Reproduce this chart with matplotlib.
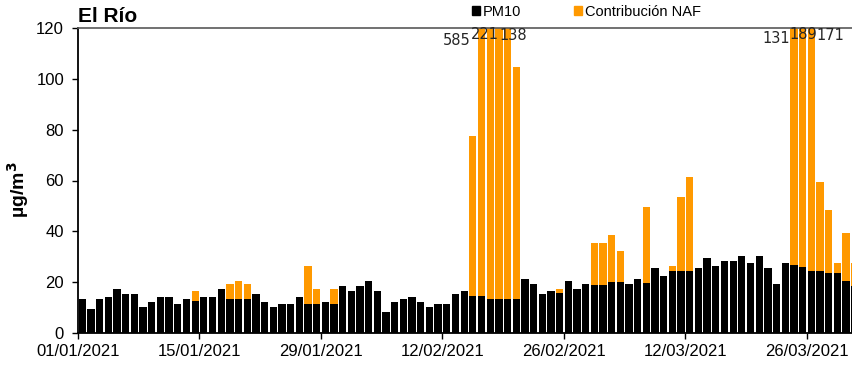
import matplotlib
matplotlib.use("Agg")
import matplotlib.pyplot as plt
import matplotlib.dates as mdates
from matplotlib.patches import Patch
import numpy as np
import pandas as pd

plt.rcParams['font.family'] = ['Liberation Sans', 'DejaVu Sans']

# ── Daily PM10 at El Río, Q1 2021 (µg/m³) ──
days = pd.date_range('2021-01-01', '2021-03-31', freq='D')

pm10 = [
    # January
    13.4, 9.4, 13.4, 14.3, 17.3, 15.5, 15.5, 10.2, 12.3, 14.3,
    14.3, 11.5, 13.4, 12.6, 14.3, 14.3, 17.3, 13.5, 13.5, 13.5,
    15.3, 12.3, 10.3, 11.5, 11.5, 14.3, 11.5, 11.5, 12.3, 11.5,
    18.5,
    # February
    16.5, 18.5, 20.5, 16.5, 8.3, 12.3, 13.4, 14.3, 12.3, 10.3,
    11.5, 11.5, 15.5, 16.5, 14.5, 14.5, 13.4, 13.4, 13.4, 13.4,
    21.3, 19.3, 15.3, 16.5, 15.7, 20.5, 17.4, 19.3,
    # March
    18.7, 18.7, 19.9, 19.9, 19.3, 21.3, 19.7, 25.4, 22.5, 24.5,
    24.5, 24.5, 25.4, 29.6, 26.4, 28.4, 28.4, 30.4, 27.6, 30.4,
    25.4, 19.3, 27.6, 26.8, 25.8, 24.5, 24.5, 23.7, 23.7, 20.5,
    18.6,
]

# natural (African dust) contribution stacked on top
naf = [
    # January
    0, 0, 0, 0, 0, 0, 0, 0, 0, 0,
    0, 0, 0, 3.9, 0, 0, 0, 5.8, 7.0, 5.8,
    0, 0, 0, 0, 0, 0, 14.9, 5.8, 0, 5.8,
    0,
    # February
    0, 0, 0, 0, 0, 0, 0, 0, 0, 0,
    0, 0, 0, 0, 63.1, 570.5, 207.6, 124.6, 106.6, 91.1,
    0, 0, 0, 0, 1.6, 0, 0, 0,
    # March
    16.7, 16.7, 18.7, 12.3, 0, 0, 29.9, 0, 0, 1.9,
    29.1, 36.8, 0, 0, 0, 0, 0, 0, 0, 0,
    0, 0, 0, 104.2, 163.2, 146.5, 34.8, 24.7, 3.9, 18.8,
    9.0,
]

YMAX = 120
# label placement around the clipped bars: (day offset, y)
label_pos = [(-2.85, 115.0), (-0.6, 117.5), (1.65, 117.0),
             (-2.0, 116.0), (0.05, 117.5), (2.15, 117.0)]

pm10 = np.array(pm10)
naf = np.array(naf)
total = pm10 + naf
x = mdates.date2num(days.to_pydatetime()) + 0.5

fig = plt.figure(figsize=(8.53, 3.66), dpi=100)
ax = fig.add_axes([78 / 853, 33 / 366, 781 / 853, 305 / 366])

ax.bar(x, pm10, width=0.84, color='black', zorder=2)
ax.bar(x, naf, width=0.84, bottom=pm10, color='#FF9900', zorder=2)

# values above the axis limit are written on top
over = np.where(total > YMAX + 0.5)[0]
for (dx, yy), i in zip(label_pos, over):
    ax.text(x[i] + dx, yy, f"{round(total[i]):d}", ha='center', va='center',
            fontsize=10.5, color='#262626', family='DejaVu Sans', zorder=5)

ax.set_ylim(0, YMAX)
ax.set_yticks(range(0, YMAX + 1, 20))
start = mdates.date2num(pd.Timestamp('2021-01-01').to_pydatetime())
ax.set_xlim(start, start + 90)
ax.set_xticks([start + 14 * k for k in range(7)])
ax.xaxis.set_major_formatter(mdates.DateFormatter('%d/%m/%Y'))

ax.tick_params(axis='both', labelsize=12, direction='out', length=4,
               width=1, colors='black')
ax.tick_params(axis='y', pad=6)
ax.tick_params(axis='x', pad=4)

for s in ['left', 'bottom']:
    ax.spines[s].set_linewidth(1.3)
    ax.spines[s].set_color('black')
ax.spines['top'].set_color('#595959')
ax.spines['top'].set_linewidth(1.2)
ax.spines['right'].set_visible(False)

ax.set_ylabel('µg/m$^{\\mathbf{3}}$', fontsize=14, fontweight='bold')
ax.yaxis.set_label_coords(-47 / 781, 0.47)

fig.text(78 / 853, 1 - 17 / 366, 'El Río', fontsize=15, fontweight='bold',
         ha='left', va='center')

handles = [Patch(color='black', label='PM10'),
           Patch(color='#FF9900', label='Contribución NAF')]
fig.legend(handles=handles, loc='center left', bbox_to_anchor=(472 / 853, 1 - 12 / 366),
           ncol=2, frameon=False, fontsize=10.5, handlelength=0.55, handleheight=0.55,
           handletextpad=0.2, columnspacing=3.6, borderpad=0, borderaxespad=0)

fig.savefig('out.png', dpi=100)
